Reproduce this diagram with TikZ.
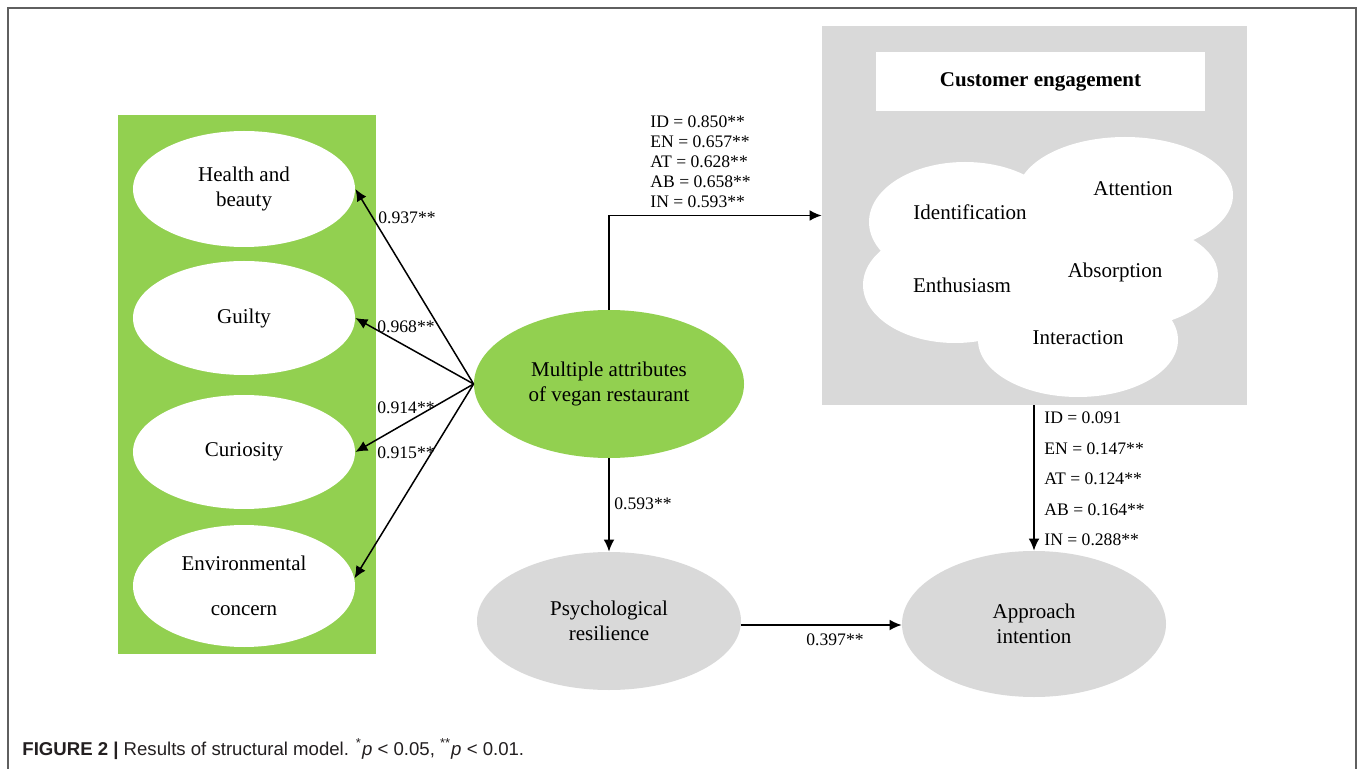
\documentclass[tikz,border=0pt]{standalone}
\usepackage{fontspec}
\setmainfont{Liberation Serif}
\newfontfamily\capfont{Liberation Sans}
\usetikzlibrary{shapes.geometric,arrows.meta}
\definecolor{vgreen}{RGB}{146,208,80}
\definecolor{lgray}{RGB}{217,217,217}
\definecolor{framegray}{RGB}{95,95,95}
\definecolor{captext}{RGB}{35,31,32}
\begin{document}
\begin{tikzpicture}[x=0.5pt,y=-0.5pt,
  nodefont/.style={font=\fontsize{10.5}{12.2}\selectfont},
  oval/.style={ellipse, inner sep=0pt, align=center, nodefont},
  wov/.style={oval, fill=white, minimum width=111pt, minimum height=58pt},
  arr/.style={-{Latex[length=6pt,width=5.4pt]}, line width=0.75pt, black},
  lbl/.style={font=\fontsize{8.8}{10}\selectfont, inner sep=0pt},
  cloudpart/.style={fill=white, draw=none},
  cloudtext/.style={nodefont, inner sep=0pt}]
\useasboundingbox (0,0) rectangle (1358,769);
% frame
\draw[framegray, line width=1pt] (7.5,769) -- (7.5,8.5) -- (1355.5,8.5) -- (1355.5,769);

% left green panel
\node[fill=vgreen, minimum width=129pt, minimum height=269.5pt, inner sep=0pt] (grp) at (247,384.5) {};
\node[wov] (hb) at (244,189) {Health and\\beauty};
\node[wov, minimum height=57pt] (gu) at (244,318) {Guilty};
\node[wov, minimum height=57pt] (cu) at (244,452) {Curiosity};
\node[wov, minimum height=61pt] (env) at (244,586) {Environmental\\[10pt]concern};

% central oval
\node[oval, fill=vgreen, minimum width=135pt, minimum height=74pt] (m) at (609,384) {Multiple attributes\\[0.4pt]of vegan restaurant};

% bottom ovals
\node[oval, fill=lgray, minimum width=132pt, minimum height=69pt] (pr) at (609,621) {Psychological\\resilience};
\node[oval, fill=lgray, minimum width=132pt, minimum height=73pt] (ai) at (1034,624) {Approach\\intention};

% customer engagement panel
\node[fill=lgray, minimum width=212.5pt, minimum height=189.5pt, inner sep=0pt] (ce) at (1034.5,215.5) {};
\node[fill=white, minimum width=164.5pt, minimum height=29.5pt, inner sep=0pt, font=\fontsize{10.5}{12}\selectfont\bfseries] (cet) at (1040.5,81.5) {Customer engagement};

% cloud
\fill[cloudpart] (965,222) ellipse [x radius=96, y radius=60];
\fill[cloudpart] (1125,195) ellipse [x radius=108, y radius=58];
\fill[cloudpart] (955,285) ellipse [x radius=92, y radius=58];
\fill[cloudpart] (1110,275) ellipse [x radius=108, y radius=55];
\fill[cloudpart] (1078,340) ellipse [x radius=100, y radius=57];
\fill[cloudpart] (1040,270) ellipse [x radius=100, y radius=60];
\node[cloudtext] (idn) at (970,212) {Identification};
\node[cloudtext] (att) at (1133,189) {Attention};
\node[cloudtext] (ent) at (962,285) {Enthusiasm};
\node[cloudtext] (abs) at (1115,272) {Absorption};
\node[cloudtext] (int) at (1078,338) {Interaction};

% arrows from central oval to left ovals
\draw[arr] (m.west) -- (hb.east);
\draw[arr] (m.west) -- (gu.east);
\draw[arr] (m.west) -- (cu.east);
\draw[arr] (m.west) -- (env.4);
\node[lbl] (l1) at (407,218) {0.937**};
\node[lbl] (l2) at (406,327) {0.968**};
\node[lbl] (l3) at (406,408) {0.914**};
\node[lbl] (l4) at (406,453) {0.915**};

% arrow to customer engagement
\draw[arr] (m.north) |- (ce.west);
\node[lbl, anchor=west, align=left] (l5) at (650,162) {ID = 0.850**\\EN = 0.657**\\AT = 0.628**\\AB = 0.658**\\IN = 0.593**};

% arrow customer engagement to approach intention
\draw[arr] (ai.north |- ce.south) -- (ai.north);
\node[lbl, anchor=west, align=left, font=\fontsize{8.8}{15.25}\selectfont] (l6) at (1044,479) {ID = 0.091\\EN = 0.147**\\AT = 0.124**\\AB = 0.164**\\IN = 0.288**};

% arrow central to psychological resilience
\draw[arr] (m.south) -- (pr.north);
\node[lbl] (l7) at (643,504) {0.593**};

% arrow psych to approach
\draw[arr] ([yshift=-2pt]pr.east) -- ([yshift=-2pt]pr.east -| ai.west);
\node[lbl] (l8) at (835,640) {0.397**};

% caption
\node[anchor=west, inner sep=0pt, text=captext, font=\capfont\fontsize{9.3}{11}\selectfont] (cap) at (22,749)
  {\textbf{FIGURE 2 |} Results of structural model. \textsuperscript{*}\textit{p} < 0.05, \textsuperscript{**}\textit{p} < 0.01.};
\end{tikzpicture}
\end{document}
